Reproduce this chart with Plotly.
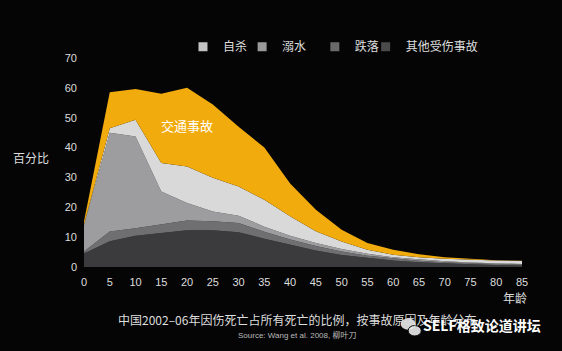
import plotly.graph_objects as go

ages = [0, 5, 10, 15, 20, 25, 30, 35, 40, 45, 50, 55, 60, 65, 70, 75, 80, 85]
other = [4.5, 8.6, 10.5, 11.4, 12.3, 12.3, 11.6, 9.5, 7.5, 5.5, 4.0, 3.0, 2.2, 1.6, 1.2, 0.9, 0.7, 0.5]
falls = [0.7, 3.3, 2.5, 2.8, 3.3, 3.0, 3.1, 2.3, 1.7, 1.5, 1.2, 0.8, 0.7, 0.5, 0.4, 0.3, 0.3, 0.3]
drowning = [8.8, 33.1, 30.7, 11.1, 5.8, 3.3, 2.5, 1.7, 1.3, 1.0, 0.8, 0.6, 0.4, 0.4, 0.3, 0.3, 0.2, 0.2]
suicide = [0.2, 1.5, 5.6, 9.5, 12.3, 11.3, 9.8, 9.0, 6.5, 4.0, 2.5, 1.4, 0.8, 0.8, 0.9, 0.9, 1.0, 1.0]
traffic = [1.1, 12.0, 10.3, 23.2, 26.3, 24.5, 20.0, 17.5, 11.0, 7.2, 4.0, 2.2, 1.7, 1.0, 0.5, 0.3, 0.1, 0.1]

x_ticks = [0, 5, 10, 15, 20, 25, 30, 35, 40, 45, 50, 55, 60, 65, 70, 75, 80, 85]
y_ticks = [0, 10, 20, 30, 40, 50, 60, 70]

FONT = "Liberation Sans, Noto Sans CJK SC, sans-serif"
CJK = "Noto Sans CJK SC, sans-serif"

series = [
    ("其他受伤事故", other, "#3b3b3d", "#4a4a4a", "legend4"),
    ("跌落", falls, "#6f6f71", "#6a6a6a", "legend3"),
    ("溺水", drowning, "#9d9d9f", "#9a9a9a", "legend2"),
    ("自杀", suicide, "#d9d9d9", "#c4c4c4", "legend"),
    ("交通事故", traffic, "#f2ab0c", None, None),
]

fig = go.Figure()
for name, vals, color, lcolor, leg in series:
    fig.add_trace(go.Scatter(
        x=ages, y=vals, name=name, mode="lines", stackgroup="one",
        line=dict(width=0, color=color), fillcolor=color, showlegend=False,
    ))
for name, vals, color, lcolor, leg in series:
    if leg is None:
        continue
    fig.add_trace(go.Scatter(
        x=[None], y=[None], name=name, mode="markers", legend=leg,
        marker=dict(symbol="square", size=9, color=lcolor), showlegend=True,
    ))

leg_y = 1.054
def legend_at(xp):
    return dict(orientation="h", x=xp, y=leg_y, xanchor="left", yanchor="middle",
                bgcolor="rgba(0,0,0,0)", font=dict(family=CJK, size=12, color="#dddddd"),
                itemwidth=30)

fig.add_annotation(x=20, y=47.3, text="交通事故", showarrow=False,
                   font=dict(family=CJK, size=13, color="#ffffff"))
fig.add_annotation(xref="paper", yref="paper", x=-0.166, y=0.523, xanchor="left", yanchor="middle",
                   text="百分比", showarrow=False,
                   font=dict(family=CJK, size=12, color="#dddddd"))
fig.add_annotation(xref="paper", yref="paper", x=0.984, y=-0.144, xanchor="center", yanchor="middle",
                   text="年龄", showarrow=False,
                   font=dict(family=CJK, size=12, color="#dddddd"))
fig.add_annotation(xref="paper", yref="paper", x=0.073, y=-0.252, xanchor="left", yanchor="middle",
                   text="中国2002–06年因伤死亡占所有死亡的比例，按事故原因及年龄分布", showarrow=False,
                   font=dict(family=CJK, size=12, color="#dddddd"))
fig.add_annotation(xref="paper", yref="paper", x=0.486, y=-0.324, xanchor="center", yanchor="middle",
                   text="Source: Wang et al. 2008, 柳叶刀", showarrow=False,
                   font=dict(family=FONT, size=8, color="#bbbbbb"))
fig.add_annotation(xref="paper", yref="paper", x=1.048, y=-0.277, xanchor="right", yanchor="middle",
                   text="<b>SELF格致论道讲坛</b>", showarrow=False,
                   font=dict(family=CJK, size=14, color="#ffffff"))
# watermark icon (two bubbles)
fig.add_shape(type="circle", xref="paper", yref="paper",
              x0=0.723, x1=0.757, y0=-0.300, y1=-0.245,
              fillcolor="rgba(235,235,235,0.9)", line=dict(width=0))
fig.add_shape(type="circle", xref="paper", yref="paper",
              x0=0.740, x1=0.770, y0=-0.330, y1=-0.280,
              fillcolor="rgba(235,235,235,0.9)", line=dict(width=1, color="#050505"))

fig.update_layout(
    width=562, height=351,
    margin=dict(l=84, r=40, t=58, b=84),
    paper_bgcolor="#050505", plot_bgcolor="#050505",
    font=dict(family=FONT, color="#dddddd", size=12),
    showlegend=True,
    legend=legend_at(0.226),
    legend2=legend_at(0.361),
    legend3=legend_at(0.527),
    legend4=legend_at(0.643),
    xaxis=dict(range=[0, 85], tickvals=x_ticks, ticktext=[str(v) for v in x_ticks],
               showgrid=False, zeroline=False, showline=False, ticklabelstandoff=7,
               tickfont=dict(family=FONT, size=11, color="#dddddd")),
    yaxis=dict(range=[0, 70], tickvals=y_ticks, ticktext=[str(v) for v in y_ticks],
               showgrid=False, zeroline=False, showline=False, ticklabelstandoff=6,
               tickfont=dict(family=FONT, size=11, color="#dddddd")),
)

fig.write_html("out.html")
